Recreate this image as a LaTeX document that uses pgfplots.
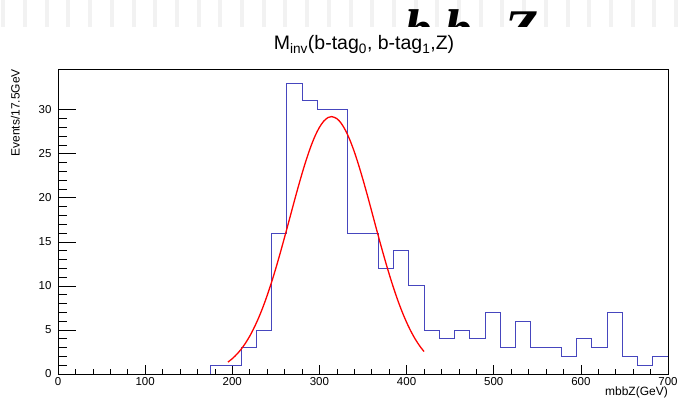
\documentclass[border=0pt]{standalone}
\usepackage{pgfplots}
\pgfplotsset{compat=1.18}
\usepackage{fontspec}
\setmainfont{Liberation Sans}
\newfontfamily\bigserif{Liberation Serif}
\definecolor{histblue}{RGB}{70,70,190}
\begin{document}
\begin{tikzpicture}
\useasboundingbox (0pt,0pt) rectangle (678pt,401pt);
\begin{scope}
\clip (0pt,374pt) rectangle (678pt,401pt);
\foreach \i [evaluate=\i as \xa using 1.3+21.7*\i, evaluate=\i as \xb using 5.3+21.7*\i] in {0,...,31} {
  \fill[gray!10] (\xa pt,374pt) rectangle (\xb pt,401pt);
}
\node[font=\bigserif\bfseries\itshape\fontsize{56}{60}\selectfont, anchor=base west, inner sep=0pt] at (404pt,352pt) {b};
\node[font=\bigserif\bfseries\itshape\fontsize{56}{60}\selectfont, anchor=base west, inner sep=0pt] at (444pt,352pt) {b};
\node[font=\bigserif\bfseries\itshape\fontsize{56}{60}\selectfont, anchor=base west, inner sep=0pt] at (504pt,352pt) {Z};
\end{scope}
\node[font=\fontsize{19.5}{22}\selectfont, anchor=base] at (364pt,351pt) {M\textsubscript{inv}(b-tag\textsubscript{0}, b-tag\textsubscript{1},Z)};
\node[font=\fontsize{12}{14}\selectfont, rotate=90, anchor=south east, inner sep=0pt] at (20pt,332pt) {Events/17.5GeV};
\node[font=\fontsize{12}{14}\selectfont, anchor=base east, inner sep=0pt] at (668pt,5pt) {mbbZ(GeV)};
% y ticks axis
\begin{axis}[at={(58pt,27pt)}, anchor=south west, scale only axis, width=610pt, height=305pt,
  xmin=0, xmax=700, ymin=0, ymax=34.6,
  xtick=\empty, ytick={0,5,...,30}, minor y tick num=4,
  tick align=inside, ytick pos=left,
  major tick length=18pt, minor tick length=9pt,
  tick style={black, line width=0.5pt},
  axis line style={line width=0.6pt},
  /pgf/number format/assume math mode=true,
  yticklabel style={font=\fontsize{11.5}{13}\selectfont, xshift=-3pt},
]
\end{axis}
% main axis with x ticks and data
\begin{axis}[at={(58pt,27pt)}, anchor=south west, scale only axis, width=610pt, height=305pt,
  xmin=0, xmax=700, ymin=0, ymax=34.6,
  ytick=\empty, xtick={0,100,...,700}, minor x tick num=4,
  tick align=inside, xtick pos=bottom,
  major tick length=9pt, minor tick length=4.5pt,
  tick style={black, line width=0.5pt},
  axis line style={line width=0.6pt},
  /pgf/number format/assume math mode=true,
  xticklabel style={font=\fontsize{11.5}{13}\selectfont},
]
\addplot[const plot mark left, histblue, line width=0.75pt] coordinates {
(0,0)(175,1)(192.5,1)(210,3)(227.5,5)(245,16)(262.5,33)(280,31)(297.5,30)(315,30)
(332.5,16)(350,16)(367.5,12)(385,14)(402.5,10)(420,5)(437.5,4)(455,5)(472.5,4)(490,7)
(507.5,3)(525,6)(542.5,3)(560,3)(577.5,2)(595,4)(612.5,3)(630,7)(647.5,2)(665,1)(682.5,2)(700,2)};
\addplot[red, line width=1.3pt, smooth] coordinates {
(195,1.35)(200,1.74)(205,2.22)(210,2.79)(215,3.48)(220,4.29)(225,5.24)(230,6.32)(235,7.54)
(240,8.90)(245,10.39)(250,12.00)(255,13.72)(260,15.51)(265,17.34)(270,19.18)(275,20.99)
(280,22.72)(285,24.33)(290,25.77)(295,27.00)(300,27.98)(305,28.69)(310,29.10)(314,29.20)
(320,28.97)(325,28.44)(330,27.62)(335,26.53)(340,25.22)(345,23.70)(350,22.04)(355,20.28)
(360,18.45)(365,16.60)(370,14.78)(375,13.02)(380,11.35)(385,9.78)(390,8.34)(395,7.03)
(400,5.87)(405,4.84)(410,3.95)(415,3.19)(420,2.55)};
\end{axis}
\end{tikzpicture}
\end{document}
